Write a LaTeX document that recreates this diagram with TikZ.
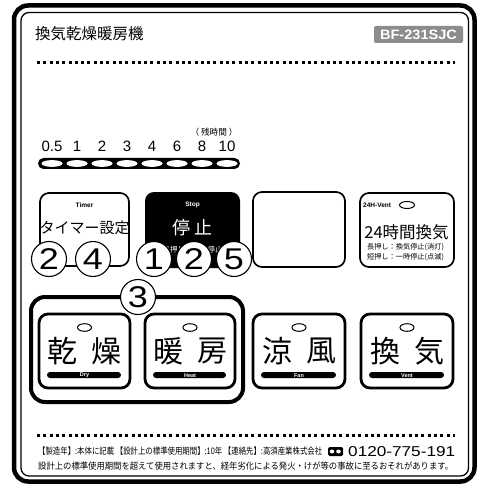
\documentclass[tikz,border=0pt]{standalone}
\usepackage{fontspec}
\setmainfont{Liberation Sans}
\newfontfamily\jp{Noto Sans CJK JP}
\newcommand{\fsz}[1]{\fontsize{#1}{#1}\selectfont}
\definecolor{modelgray}{HTML}{8C8C8C}
\begin{document}
\begin{tikzpicture}[x=1pt,y=-1pt,
  btn/.style={draw, line width=1.7pt, rounded corners=9pt},
  modebtn/.style={draw, line width=2.8pt, rounded corners=9pt},
  cnum/.style={circle, draw, fill=white, line width=1.1pt, minimum size=35pt, inner sep=0pt, font=\fsz{30}},
  dotline/.style={line width=3pt, dash pattern=on 3pt off 3.3pt},
  tiny/.style={font=\bfseries\fsz{6.5}},
  jpt/.style={font=\jp\fsz{#1}, inner sep=0pt}
]
\useasboundingbox (0,0) rectangle (478,486);
\fill[white] (0,0) rectangle (478,486);
% frame
\draw[line width=4.5pt, rounded corners=14pt] (14,5.5) rectangle (474.5,481.5);
\draw[line width=1.3pt, rounded corners=8pt] (21,12.5) rectangle (468.5,476);
% title and model
\node[jpt=15.5, anchor=west] (title) at (35,33.5) {換気乾燥暖房機};
\fill[modelgray, rounded corners=2pt] (374,26) rectangle (463,43);
\node[white, inner sep=0pt] (model) at (418.5,34.5) {\resizebox{77pt}{9.5pt}{\bfseries BF-231SJC}};
\draw[dotline] (37,62.8) -- (455,62.8);
% timer scale
\node[inner sep=0pt] (remain) at (214,132) {\resizebox{47pt}{!}{\jp\fsz{9}（ 残時間 ）}};
\foreach \t [count=\i from 0] in {0.5,1,2,3,4,6,8,10} {
  \node[font=\fsz{15}, inner sep=0pt] (n\i) at (52+25*\i,146) {\t};
}
\fill[rounded corners=5.5pt] (38,158) rectangle (240,169);
\foreach \i in {0,...,7} {
  \fill[white] (52+25*\i,163.5) ellipse (10.5pt and 3.4pt);
}
% row 1 buttons
\draw[btn] (40,193) rectangle (129,266);
\node[tiny] (timerE) at (84.5,205) {Timer};
\node[jpt=15] (timerJ) at (84.5,228) {タイマー設定};
\fill[rounded corners=9pt] (145,192) rectangle (240,268);
\node[tiny, white] (stopE) at (192.5,205) {Stop};
\node[jpt=18, white] (stopJ) at (192.5,228) {停 止};
\node[jpt=7.5, white] (stopS) at (192.5,250) {長押し：運転停止};
\draw[btn] (253,192) rectangle (345,267);
\draw[btn] (360,193) rectangle (454,267);
\node[tiny, anchor=west, inner sep=0pt] (ventE) at (363,205) {24H-Vent};
\draw[line width=1pt] (407,205) ellipse (7.5pt and 3.5pt);
\node[jpt=16.5] (ventJ) at (406.5,232) {24時間換気};
\node[jpt=7.2] (ventL) at (405.5,247.5) {長押し：換気停止(消灯)};
\node[jpt=7.2] (ventS) at (405.5,257.5) {短押し：一時停止(点滅)};
% circled numbers
\node[cnum] (c2a) at (49,259) {\scalebox{1.2}[1]{2}};
\node[cnum] (c4) at (93,259) {\scalebox{1.2}[1]{4}};
\node[cnum] (c1) at (154,259) {\scalebox{1.2}[1]{1}};
\node[cnum] (c2b) at (194,259) {\scalebox{1.2}[1]{2}};
\node[cnum] (c5) at (234,259) {\scalebox{1.2}[1]{5}};
% group box
\draw[line width=4pt, rounded corners=14pt] (31,297) rectangle (243,402);
\node[cnum] (c3) at (138,297) {\scalebox{1.2}[1]{3}};
% mode buttons
\foreach \l/\r/\a/\b/\e [count=\i] in {39/130/乾/燥/Dry, 145/235/暖/房/Heat, 253/345/涼/風/Fan, 361/453/換/気/Vent} {
  \pgfmathsetmacro\c{(\l+\r)/2}
  \draw[modebtn] (\l,314) rectangle (\r,388);
  \draw[line width=1pt] (\c,327.5) ellipse (7pt and 3.8pt);
  \node[jpt=30] (m\i a) at (\c-22,351) {\a};
  \node[jpt=30] (m\i b) at (\c+22,351) {\b};
  \fill[rounded corners=3pt] (\l+8,372) rectangle (\r-9,378);
  \node[tiny, white, font=\bfseries\fsz{5.5}, inner sep=0pt] (m\i e) at (\c,375.2) {\e};
}
% footer
\draw[dotline] (37,435) -- (455,435);
\node[anchor=west, inner sep=0pt] (foot1) at (38,451.5) {\resizebox{284pt}{7.6pt}{\jp 【製造年】:本体に記載 【設計上の標準使用期間】:10年 【連絡先】:高須産業株式会社}};
\fill[rounded corners=1.5pt] (328,447) rectangle (343,456);
\fill[white] (332,451.5) ellipse (2.3pt and 2pt);
\fill[white] (338.5,451.5) ellipse (2.3pt and 2pt);
\node[anchor=west, inner sep=0pt] (phone) at (348,451.5) {\resizebox{107pt}{10pt}{0120-775-191}};
\node[anchor=west, inner sep=0pt] (foot2) at (38,466.5) {\resizebox{415pt}{7.6pt}{\jp 設計上の標準使用期間を超えて使用されますと、経年劣化による発火・けが等の事故に至るおそれがあります。}};
\end{tikzpicture}
\end{document}
